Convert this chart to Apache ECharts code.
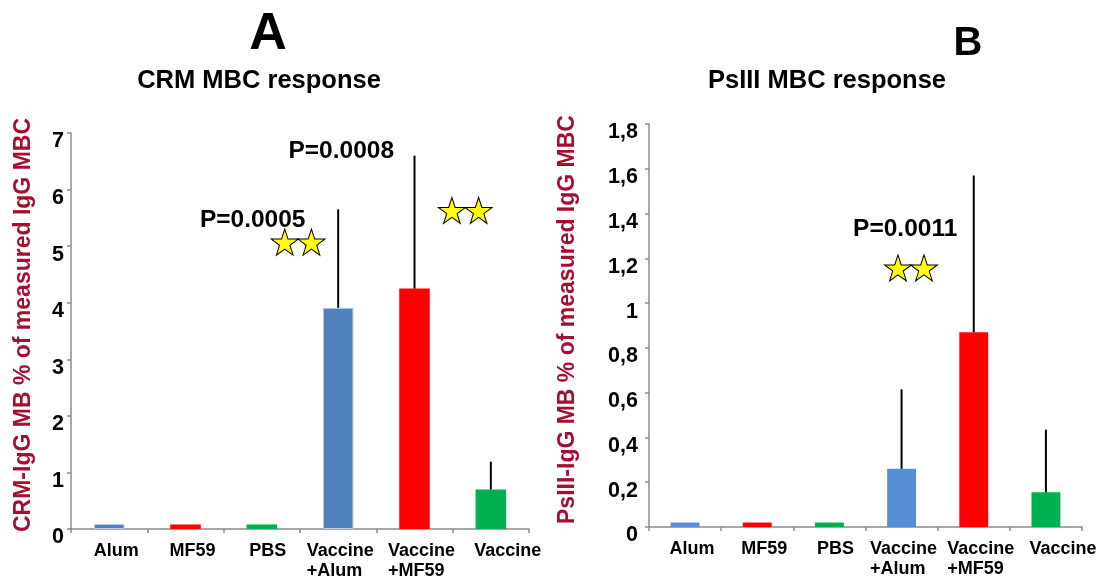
<!DOCTYPE html>
<html>
<head>
<meta charset="utf-8">
<title>CRM and PsIII MBC response</title>
<script src="https://cdn.jsdelivr.net/npm/echarts@6/dist/echarts.min.js"></script>
<style>
  html, body { margin: 0; padding: 0; background: #ffffff; }
  #chart { width: 1100px; height: 581px; }
</style>
</head>
<body>
<div id="chart"></div>
<script>
// Groups shown on both panels
var categories = ['Alum', 'MF59', 'PBS', 'Vaccine\n+Alum', 'Vaccine\n+MF59', 'Vaccine'];

// Panel A: CRM-IgG memory B cells (% of measured IgG MBC), mean and SD
var crmMean = [0.09, 0.08, 0.08, 3.91, 4.25, 0.70];
var crmSD   = [0, 0, 0, 1.74, 2.35, 0.49];

// Panel B: PsIII-IgG memory B cells (% of measured IgG MBC), mean and SD
var psMean = [0.02, 0.02, 0.02, 0.26, 0.87, 0.155];
var psSD   = [0, 0, 0, 0.355, 0.70, 0.28];

// Y axis ranges and tick steps
var crmAxis = { min: 0, max: 7, interval: 1 };
var psAxis  = { min: 0, max: 1.8, interval: 0.2 };

// Significance notes: text label and star pairs, in data units
// (x counts categories from 0, y is the axis value)
var crmNotes = [
  { text: 'P=0.0005', x: 1.88, y: 5.46 },
  { text: 'P=0.0008', x: 3.04, y: 6.68 }
];
var crmStars = [[2.30, 5.07], [2.65, 5.07], [4.49, 5.63], [4.84, 5.63]];
var psNotes = [
  { text: 'P=0.0011', x: 3.05, y: 1.33 }
];
var psStars = [[2.95, 1.157], [3.31, 1.157]];

// ---- styles ----
var FONT = '"Liberation Sans", Arial, Helvetica, sans-serif';
var AXIS_GREY = '#8c8c8c';
var NAME_RED = '#a50f2d';
var colorsA = ['#4f81bd', '#ff0000', '#00b050', '#4f81bd', '#ff0000', '#00b050'];
var colorsB = ['#558ed5', '#ff0000', '#00b050', '#558ed5', '#ff0000', '#00b050'];
// small rightward nudge (px) of each category label
var labelNudge = [7, 7, 6, 2, 7, 17];
var STAR = 'path://M50,0 L61.8,35.1 L98.9,35.1 L68.9,56.8 L80.2,91.9 L50,70.2 L19.8,91.9 L31.1,56.8 L1.1,35.1 L38.2,35.1 Z';

function decimalComma(v) {
  if (v === 0) return '0';
  return String(+v.toFixed(1)).replace('.', ',');
}

function categoryAxis(gridIndex) {
  return {
    type: 'category',
    gridIndex: gridIndex,
    data: categories.map(function (c, i) {
      return { value: c, textStyle: { padding: [0, 0, 0, labelNudge[i] * 2] } };
    }),
    axisLine: { onZero: false, lineStyle: { color: AXIS_GREY, width: 1.5 } },
    axisTick: { show: true, length: 4, lineStyle: { color: AXIS_GREY, width: 1.5 } },
    axisLabel: {
      margin: 12,
      interval: 0,
      color: '#000',
      fontFamily: FONT,
      fontWeight: 'bold',
      fontSize: 18,
      lineHeight: 20,
      formatter: function (v) {
        return v.split('\n').map(function (s) { return '{l|' + s + '}'; }).join('\n');
      },
      rich: { l: { align: 'left', fontFamily: FONT, fontWeight: 'bold', fontSize: 18, lineHeight: 20, color: '#000' } }
    }
  };
}

// hidden linear axis sharing the category span, used to place the notes
function noteAxis(gridIndex) {
  return { type: 'value', gridIndex: gridIndex, min: -0.5, max: 5.5, show: false, axisLine: { onZero: false } };
}

function valueAxis(gridIndex, range, name, gap, margin, fmt) {
  return {
    type: 'value',
    gridIndex: gridIndex,
    min: range.min,
    max: range.max,
    interval: range.interval,
    name: name,
    nameLocation: 'middle',
    nameGap: gap,
    nameTextStyle: { color: NAME_RED, fontFamily: FONT, fontWeight: 'bold', fontSize: 23, padding: [0, 0, 0, 12] },
    splitLine: { show: false },
    axisLine: { show: true, onZero: false, lineStyle: { color: AXIS_GREY, width: 1.5 } },
    axisTick: { show: true, length: 4, lineStyle: { color: AXIS_GREY, width: 1.5 } },
    axisLabel: {
      margin: margin,
      color: '#000',
      fontFamily: FONT,
      fontWeight: 'bold',
      fontSize: 21.5,
      verticalAlign: 'top',
      lineHeight: 17,
      formatter: fmt
    }
  };
}

function barSeries(axisIdx, values, colors, borderColor) {
  return {
    type: 'bar',
    xAxisIndex: axisIdx,
    yAxisIndex: axisIdx,
    barWidth: '40%',
    data: values.map(function (v, i) {
      var outlined = borderColor && i % 3 === 0;
      return { value: v, itemStyle: { color: colors[i], borderColor: outlined ? borderColor : colors[i], borderWidth: outlined ? 1 : 0 } };
    }),
    z: 2
  };
}

// upward whiskers from the bar top to mean + SD
function errorSeries(axisIdx, means, sds) {
  var data = means.map(function (m, i) { return [i, m, m + sds[i]]; }).filter(function (d, i) { return sds[i] > 0; });
  return {
    type: 'custom',
    xAxisIndex: axisIdx,
    yAxisIndex: axisIdx,
    data: data,
    z: 3,
    renderItem: function (params, api) {
      var lo = api.coord([api.value(0), api.value(1)]);
      var hi = api.coord([api.value(0), api.value(2)]);
      return {
        type: 'line',
        shape: { x1: lo[0], y1: lo[1], x2: hi[0], y2: hi[1] },
        style: { stroke: '#000', lineWidth: 2 }
      };
    }
  };
}

function noteSeries(xIdx, yIdx, notes) {
  return {
    type: 'scatter',
    xAxisIndex: xIdx,
    yAxisIndex: yIdx,
    symbolSize: 0,
    silent: true,
    z: 5,
    itemStyle: { opacity: 1 },
    label: {
      show: true,
      position: 'inside',
      formatter: '{b}',
      color: '#000',
      fontFamily: FONT,
      fontWeight: 'bold',
      fontSize: 24.5
    },
    data: notes.map(function (n) { return { name: n.text, value: [n.x, n.y] }; })
  };
}

function starSeries(xIdx, yIdx, stars) {
  return {
    type: 'scatter',
    xAxisIndex: xIdx,
    yAxisIndex: yIdx,
    symbol: STAR,
    symbolSize: [27, 26],
    silent: true,
    z: 5,
    itemStyle: { color: '#ffff00', borderColor: '#000', borderWidth: 1, opacity: 1 },
    data: stars
  };
}

var chart = echarts.init(document.getElementById('chart'), null, { renderer: 'canvas' });

chart.setOption({
  backgroundColor: '#ffffff',
  animation: false,
  title: [
    { text: 'A', left: 263, top: 4, textAlign: 'center', textStyle: { fontFamily: FONT, fontWeight: 'bold', fontSize: 52, color: '#000' } },
    { text: 'B', left: 963, top: 19, textAlign: 'center', textStyle: { fontFamily: FONT, fontWeight: 'bold', fontSize: 40, color: '#000' } },
    { text: 'CRM MBC response', left: 254, top: 63, textAlign: 'center', textStyle: { fontFamily: FONT, fontWeight: 'bold', fontSize: 25.5, color: '#000' } },
    { text: 'PsIII MBC response', left: 822, top: 63, textAlign: 'center', textStyle: { fontFamily: FONT, fontWeight: 'bold', fontSize: 25.5, color: '#000' } }
  ],
  grid: [
    { left: 71, top: 133, width: 458, height: 399 },
    { left: 649, top: 124, width: 433, height: 403 }
  ],
  xAxis: [categoryAxis(0), categoryAxis(1), noteAxis(0), noteAxis(1)],
  yAxis: [
    valueAxis(0, crmAxis, 'CRM-IgG MB % of measured IgG MBC', 36, 7, function (v) { return String(v); }),
    valueAxis(1, psAxis, 'PsIII-IgG MB % of measured IgG MBC', 70, 11, decimalComma)
  ],
  series: [
    barSeries(0, crmMean, colorsA, '#b9cde5'),
    errorSeries(0, crmMean, crmSD),
    barSeries(1, psMean, colorsB, null),
    errorSeries(1, psMean, psSD),
    noteSeries(2, 0, crmNotes),
    starSeries(2, 0, crmStars),
    noteSeries(3, 1, psNotes),
    starSeries(3, 1, psStars)
  ]
});
</script>
</body>
</html>
